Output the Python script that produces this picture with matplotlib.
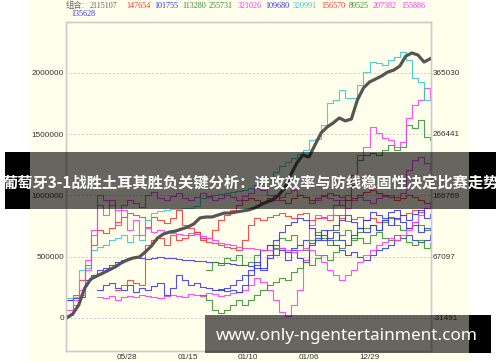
import numpy as np
import matplotlib
matplotlib.use("Agg")
import matplotlib.pyplot as plt
from matplotlib.patches import Rectangle

# ---------------- data ----------------
x_tick_labels = ["05/28", "01/15", "01/10", "01/06", "12/29"]
left_ticks = [0, 500000, 1000000, 1500000, 2000000]
right_ticks = [-31491, 67097, 166769, 266441, 365030]

combo_name = "2115107"
# combination (left axis), thousands
combo = [-2, 30, 104, 243, 316, 341, 365, 390, 414, 447, 471, 488, 496, 537, 586, 651,
         684, 700, 708, 725, 741, 766, 815, 823, 823, 839, 855, 855, 864, 872, 880, 896,
         921, 945, 962, 1002, 1060, 1166, 1264, 1329, 1313, 1411, 1509, 1558, 1591, 1632,
         1608, 1623, 1779, 1877, 1926, 1950, 1975, 2007, 2023, 2056, 2138, 2163, 2146,
         2089, 2115]

N = None
# individual series (right axis), thousands
s147654 = [-3, 5, 30, 54, 86, 111, 106, 114, 124, 132, 138, 135, 132, 115, 132, 127, 122,
           130, 143, 119, 114, 107, 98, 91, 90, 86, 83, 81, 78, 94, 119, 130, 127, 132, 135,
           138, 133, 130, 136, 138, 127, 130, 132, 127, 135, 130, 125, 128, 132, 127, 130,
           124, 127, 132, 128, 135, 138, 143, 140, 146, 148]
s101755 = [-3, 0, 2, 30, 38, 46, 49, 54, 59, 62, 65, 67, 65, 64, 65, 67, 65, 65, 64, 62, 62,
           60, 60, 59, 59, 57, 57, 56, 54, 54, 52, 49, 46, 70, 86, 78, 75, 81, 86, 94, 90, 98,
           103, 94, 86, 78, 70, 75, 67, 62, 70, 78, 81, 86, 94, 98, 103, 94, 91, 94, 102]
s113280 = [N] * 23 + [46, 59, 54, 65, 62, 70, 54, 59, 70, 78, 86, 81, 98, 94, 103, 86, 78,
                      94, 107, 98, 86, 94, 103, 111, 98, 107, 114, 119, 111, 124, 130, 119,
                      111, 114, 124, 119, 111, 113]
s255731 = [N] * 44 + [110, 135, 159, 200, 224, 232, 235, 232, 240, 248, 240, 245, 281, 276,
                      289, 261, 256]
s321026 = [N] * 5 + [2, 0, 4, -3, 2, 4, 2, 5, 4, 2, 0, 4, 5, 4, 2, 7, 5, 4, 9, 7, 4, 5, 9,
                     10, 13, 22, 33, 26, 13, -3, -22, -29, -11, 13, 62, 119, 135, 130, 135,
                     151, 159, 167, 184, 232, 245, 278, 268, 260, 256, 245, 253, 292, 313,
                     321, 341, 321]
s109680 = [N] * 5 + [13, 21, 25, 17, 13, 21, 10, 17, 13, 20, 25, 5, 17, 38, 30, 21, 25, 18,
                     17, 13, 15, 12, 13, 10, 21, 38, 54, 78, 86, 70, 81, 62, 78, 65, 59, 86,
                     94, 111, 98, 107, 94, 86, 103, 114, 107, 119, 111, 127, 119, 130, 124,
                     114, 119, 107, 114, 110]
s320991 = [0, 2, 46, 49, 78, 83, 86, 94, 98, 103, 91, 103, 94, 127, 138, 141, 143, 145, 145,
           146, 146, 150, 162, 164, 167, 169, 171, 172, 174, 175, 179, 184, 188, 195, 205,
           214, 221, 227, 234, 240, 256, 258, 281, 316, 321, 337, 324, 324, 346, 367, 383,
           381, 378, 386, 391, 399, 386, 357, 350, 321, 321]
s156570 = [N] * 8 + [13, 21, 30, 25, 21, 86, 94, 98, 86, 103, 94, 98, 103, 107, 94, 98, 111,
                     127, 135, 143, 151, 159, 162, 159, 156, 162, 167, 159, 154, 162, 167,
                     164, 159, 162, 166, 171, 167, 164, 159, 162, 167, 172, 175, 171, 167,
                     164, 159, 162, 167, 164, 159, 154, 156]
s89525 = [N] * 22 + [5, -3, -19, -24, -19, -11, -3, -11, -3, 5, 13, 21, 26, 33, 30, 43, 49,
                     59, 54, 65, 70, 62, 75, 81, 86, 94, 98, 90, 103, 107, 98, 94, 103, 98,
                     91, 86, 94, 81, 90]
s207382 = [-19, -3, 13, 62, 111, 167, 159, 151, 143, 151, 159, 154, 148, 167, 172, 162, 159,
           166, 171, 162, 159, 164, 171, 166, 159, 162, 167, 164, 159, 166, 171, 179, 175,
           167, 159, 164, 171, 175, 167, 164, 154, 159, 167, 162, 159, 151, 146, 159, 164,
           159, 154, 162, 166, 167, 164, 171, 208, 224, 229, 219, 208]
s155886 = [-27, -11, 5, 46, 103, 151, 135, 159, 119, 143, 111, 127, 103, 114, 107, 111, 107,
           106, 104, 103, 106, 104, 101, 98, 94, 90, 88, 86, 83, 81, 81, 80, 78, 78, 80, 81,
           78, 75, 78, 81, 78, 70, 59, 46, 38, 30, 38, 46, 59, 70, 78, 86, 91, 98, 94, 103,
           111, 124, 135, 146, 156]
s135628 = [N] * 25 + [13, 17, 21, 30, 38, 46, 59, 49, 65, 94, 107, 119, 124, 130, 127, 114,
                      103, 94, 111, 119, 127, 135, 124, 114, 127, 140, 135, 130, 140, 143,
                      135, 127, 136, 143, 130, 136]

series_names = ["147654", "101755", "113280", "255731", "321026", "109680",
                "320991", "156570", "89525", "207382", "155886", "135628"]
series_values = [s147654, s101755, s113280, s255731, s321026, s109680,
                 s320991, s156570, s89525, s207382, s155886, s135628]

# ---------------- style ----------------
RED, BLUE, GREEN, MAG, CYAN = "#ff3030", "#3030ff", "#2f8f2f", "#ff30ff", "#30c8c8"
series_colors = [RED, BLUE, GREEN, GREEN, MAG, BLUE, CYAN, RED, GREEN, MAG, MAG, BLUE]
legend_x = [126, 154, 182, 209, 238, 265, 293, 321, 349, 373, 401, 71]
legend_row = [0] * 11 + [1]

W, H = 500, 362
CREAM = "#ffffec"


def fx(px):
    return px / W


def fy(py):
    return 1 - py / H


def arr(v, scale=1000.0):
    return np.array([np.nan if a is None else a * scale for a in v], dtype=float)


fig = plt.figure(figsize=(W / 100, H / 100), dpi=100)
fig.patch.set_facecolor("white")
fig.add_artist(Rectangle((fx(30), 0), fx(469) - fx(30), 1, transform=fig.transFigure,
                         facecolor=CREAM, edgecolor="none", zorder=-10))

ax = fig.add_axes([fx(66), fy(351), fx(430.7) - fx(66), (351 - 22) / H])
ax2 = ax.twinx()
ax.set_zorder(ax2.get_zorder() + 1)
ax.patch.set_visible(False)
ax2.set_facecolor(CREAM)

n = len(combo)
x = np.arange(n)

for vals, col in zip(series_values, series_colors):
    ax2.plot(x, arr(vals), drawstyle="steps-post", color=col, lw=0.8, alpha=0.85)

ax.plot(x, arr(combo), color="#555555", lw=2.3)

L0, L1 = -272000, 2416000
ax.set_ylim(L0, L1)
k = (365030 + 31491) / 2000000
ax2.set_ylim(-31491 + k * L0, -31491 + k * L1)
ax.set_xlim(-0.1, 60.1)

ax.set_xticks([10, 20, 30, 40, 50])
ax.set_xticklabels(x_tick_labels)
ax.set_yticks(left_ticks)
ax.set_yticklabels([str(t) for t in left_ticks])
ax2.set_yticks(right_ticks)
ax2.set_yticklabels([str(t) for t in right_ticks])

for a in (ax, ax2):
    for s in a.spines.values():
        s.set_color("#cccccc")
        s.set_linewidth(1.0)
    a.tick_params(length=0, labelsize=5.9, colors="#333333",
                  labelfontfamily="Liberation Sans")
ax.tick_params(axis="y", pad=1.5)
ax.tick_params(axis="x", pad=2)
ax2.tick_params(axis="y", pad=1.2)

ax2.set_xticks([10, 20, 30, 40, 50])
ax2.grid(True, axis="x", color="#cccccc", lw=0.7, linestyle=(0, (2, 2)))
for t in left_ticks:
    ax2.axhline(-31491 + k * t, color="#cccccc", lw=0.7, linestyle=(0, (2, 2)), zorder=0)

# legend line at top
fig.text(fx(66), fy(5.5), "组合:", color="#666666", fontsize=6.0, va="center", ha="left",
         family=["Noto Sans CJK SC", "DejaVu Sans"])
fig.text(fx(90), fy(5.5), combo_name, color="#666666", fontsize=5.9, va="center",
         ha="left", family="Liberation Serif")
for name, col, lx, row in zip(series_names, series_colors, legend_x, legend_row):
    fig.text(fx(lx), fy(5.5 + 8 * row), name, color=col, fontsize=5.9, va="center",
             ha="left", family="Liberation Serif")

# title banner
fig.add_artist(Rectangle((fx(30), fy(209)), fx(469) - fx(30), (209 - 152) / H,
                         transform=fig.transFigure, facecolor="black", alpha=0.6,
                         edgecolor="none", zorder=20))
for a0, a1 in [(5, 30), (469, 496)]:
    fig.add_artist(Rectangle((fx(a0), fy(209)), fx(a1) - fx(a0), (209 - 152) / H,
                             transform=fig.transFigure, facecolor="black",
                             edgecolor="none", zorder=20))
fig.text(fx(250.5), fy(183), "葡萄牙3-1战胜土耳其胜负关键分析：进攻效率与防线稳固性决定比赛走势",
         color="white", fontsize=11, fontweight="bold", ha="center", va="center",
         family=["Noto Sans CJK SC", "DejaVu Sans"], zorder=21)

# watermark box
fig.add_artist(Rectangle((fx(205), fy(352.7)), fx(469) - fx(205), (352.7 - 315) / H,
                         transform=fig.transFigure, facecolor="black", alpha=0.6,
                         edgecolor="none", zorder=20))
fig.add_artist(Rectangle((fx(469), fy(352.7)), fx(491) - fx(469), (352.7 - 315) / H,
                         transform=fig.transFigure, facecolor="black",
                         edgecolor="none", zorder=20))
fig.text(fx(347), fy(336), "www.only-ngentertainment.com", color="white", fontsize=12.3,
         fontweight="bold", ha="center", va="center", family="Noto Sans", zorder=21)

fig.savefig("out.png", dpi=100)
